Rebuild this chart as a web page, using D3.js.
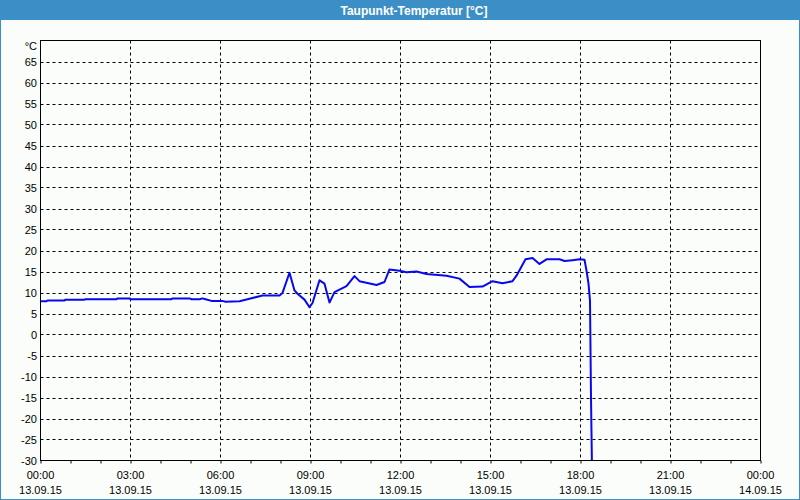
<!DOCTYPE html>
<html><head><meta charset="utf-8">
<script src="https://cdn.jsdelivr.net/npm/d3@7"></script>
<style>
html,body{margin:0;padding:0;background:#fbfdfb;}
svg{display:block;}
text{font-family:"Liberation Sans",Arial,sans-serif;}
</style></head>
<body>
<svg id="chart" width="800" height="500"></svg>
<script>
const title = "Taupunkt-Temperatur [°C]";
const unitLabel = "°C";
const times = ["00:00","00:12","00:14","00:48","00:50","01:28","01:30","02:32","02:34","02:58","03:00","04:22","04:24","04:58","05:02","05:18","05:24","05:30","05:42","06:04","06:10","06:38","06:58","07:24","07:58","08:04","08:18","08:28","08:34","08:48","08:58","09:04","09:18","09:28","09:38","09:48","09:58","10:12","10:28","10:38","11:12","11:28","11:38","11:58","12:12","12:32","12:52","13:32","13:58","14:18","14:44","15:04","15:24","15:44","15:52","16:10","16:24","16:38","16:52","17:18","17:28","17:44","17:58","18:08","18:12","18:16","18:19","18:21","18:23"];
const values = [7.9,7.9,8.1,8.1,8.3,8.3,8.4,8.4,8.6,8.6,8.4,8.4,8.6,8.6,8.4,8.4,8.6,8.4,8.0,8.0,7.8,7.9,8.5,9.3,9.3,9.9,14.7,10.5,9.7,8.3,6.5,7.5,12.9,12.1,7.6,10.1,10.7,11.5,13.9,12.7,11.8,12.5,15.5,15.2,14.8,15.0,14.4,14.0,13.3,11.3,11.4,12.7,12.2,12.7,14.0,17.9,18.2,16.8,17.9,17.9,17.5,17.7,17.9,17.8,15.2,12.1,8.0,-14.9,-32];
const yTicks = [-30,-25,-20,-15,-10,-5,0,5,10,15,20,25,30,35,40,45,50,55,60,65];
const xTickLabels = [["00:00","13.09.15"],["03:00","13.09.15"],["06:00","13.09.15"],["09:00","13.09.15"],["12:00","13.09.15"],["15:00","13.09.15"],["18:00","13.09.15"],["21:00","13.09.15"],["00:00","14.09.15"]];

const svg = d3.select("#chart");
const W = 800, H = 500;
const L = 40.5, R = 760.5, T = 40.5, B = 460.5;
const day0 = new Date(2015, 8, 13, 0, 0);
const day1 = new Date(2015, 8, 14, 0, 0);
const parse = s => { const [h, m] = s.split(":").map(Number); return new Date(2015, 8, 13, h, m); };
const data = times.map((t, i) => ({t: parse(t), v: values[i]}));

const x = d3.scaleTime().domain([day0, day1]).range([L, R]);
const y = d3.scaleLinear().domain([-30, 70]).range([B, T]);

// background + title bar + frame
svg.append("rect").attr("x",0).attr("y",0).attr("width",W).attr("height",H).attr("fill","#fbfdfb");
svg.append("rect").attr("x",0).attr("y",0).attr("width",W).attr("height",20).attr("fill","#3c8fc6");
svg.append("rect").attr("x",0.5).attr("y",0.5).attr("width",W-1).attr("height",H-1).attr("fill","none").attr("stroke","#3c8fc6");
svg.append("text").attr("x",414).attr("y",15).attr("text-anchor","middle").attr("fill","#fff")
  .attr("font-size","12px").attr("font-weight","bold").text(title);

// grid
const g = svg.append("g");
g.selectAll("line.hg").data(yTicks.filter(v => v > -30)).enter().append("line")
  .attr("x1", L).attr("x2", R).attr("y1", d => Math.round(y(d)) + 0.5).attr("y2", d => Math.round(y(d)) + 0.5)
  .attr("stroke","#000").attr("stroke-dasharray","3,3");
const major = d3.timeHour.every(3).range(day0, day1).slice(1);
g.selectAll("line.vg").data(major).enter().append("line")
  .attr("x1", d => Math.round(x(d)-0.5)+0.5).attr("x2", d => Math.round(x(d)-0.5)+0.5).attr("y1", T).attr("y2", B)
  .attr("stroke","#000").attr("stroke-dasharray","3,3");

// data line
svg.append("clipPath").attr("id","clip").append("rect").attr("x",L).attr("y",T).attr("width",R-L).attr("height",B-T);
svg.append("path").datum(data).attr("clip-path","url(#clip)")
  .attr("fill","none").attr("stroke","#0808ee").attr("stroke-width",2).attr("stroke-linejoin","round")
  .attr("d", d3.line().x(d => x(d.t)).y(d => y(d.v)));

// frame of plot
svg.append("rect").attr("x",L).attr("y",T).attr("width",R-L).attr("height",B-T).attr("fill","none").attr("stroke","#000");

// bottom axis: hourly ticks
const xAxis = d3.axisBottom(x).ticks(d3.timeHour.every(1)).tickSize(3).tickFormat("");
const ax = svg.append("g").attr("transform",`translate(0,${B})`).call(xAxis);
ax.select(".domain").remove();
ax.selectAll("line").attr("stroke","#000");

// x labels
const xTicks = d3.timeHour.every(3).range(day0, d3.timeHour.offset(day1, 1));
const xl = svg.append("g");
xTicks.forEach((d, i) => {
  const lab = xTickLabels[i];
  xl.append("text").attr("x", x(d)).attr("y", 479).attr("text-anchor","middle").attr("font-size","11px").attr("fill","#000").text(lab[0]);
  xl.append("text").attr("x", x(d)).attr("y", 494).attr("text-anchor","middle").attr("font-size","11px").attr("fill","#000").text(lab[1]);
});

// y labels
const yl = svg.append("g");
yl.selectAll("text").data(yTicks).enter().append("text")
  .attr("x", 37).attr("y", d => y(d) + 4).attr("text-anchor","end").attr("font-size","11px").attr("fill","#000").text(d => d);
yl.append("text").attr("x",37).attr("y",50).attr("text-anchor","end").attr("font-size","11px").attr("fill","#000").text(unitLabel);
</script>
</body></html>
